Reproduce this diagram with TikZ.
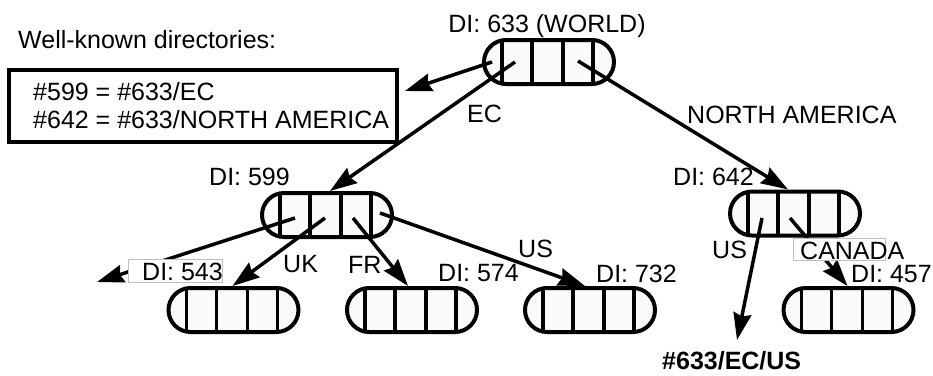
\documentclass[tikz,border=0pt]{standalone}
\usepackage{fontspec}
\setmainfont{Liberation Sans}
\usetikzlibrary{arrows.meta,calc}
\begin{document}
\begin{tikzpicture}[x=1pt,y=-1pt,
  every node/.style={font=\fontsize{25}{28}\selectfont, inner sep=0pt},
  pill/.style={draw, line width=4pt, fill=black!2, rounded corners=22pt,
    minimum width=130pt, minimum height=44pt,
    path picture={\foreach \dx in {-47,-17,14,44}{\draw[line width=3.4pt]
      ([xshift=\dx pt]path picture bounding box.north) -- ([xshift=\dx pt]path picture bounding box.south);}}},
  arr/.style={line width=3.5pt, -{Stealth[length=27pt,width=18pt,inset=3pt]}},
  lbl/.style={anchor=base west},
  gbox/.style={draw=black!25, line width=0.8pt, fill=white, inner sep=0pt}
]
\useasboundingbox (0,0) rectangle (933,375);

% directory nodes
\node[pill] (n633) at (549,62) {};
\node[pill] (n599) at (327,215) {};
\node[pill] (n642) at (795,213.5) {};
\node[pill] (n543) at (233.5,310) {};
\node[pill] (n574) at (412,310) {};
\node[pill] (n732) at (590,310) {};
\node[pill] (n457) at (848.5,310) {};

% well-known box
\node[lbl] (wk) at (18,48) {Well-known directories:};
\node[draw, line width=4pt, minimum width=388pt, minimum height=72pt, anchor=north west] (box) at (7,68) {};
\node[lbl] (w1) at (33,100) {\#599 = \#633/EC};
\node[lbl] (w2) at (33,128) {\#642 = \#633/NORTH AMERICA};

% free ends
\coordinate (tipbox) at (405,91);
\coordinate (tipleft) at (97,282);
\coordinate (tipus) at (737,340);

% arrows
\draw[arr] ($(n633.center)+(-57,0)$) -- (tipbox);
\draw[arr] ($(n633.center)+(-34,0)$) -- ([xshift=3pt]n599.north);
\draw[arr] ($(n633.center)+(29,-1)$) -- ([xshift=-7pt]n642.north);
\draw[arr] ($(n599.center)+(-32,3)$) -- (tipleft);
\draw[arr] ($(n599.center)+(-2,3)$) -- ([xshift=-1pt]n543.north);
\draw[arr] ($(n599.center)+(26,3)$) -- ([xshift=-4pt]n574.north);
\draw[arr] ($(n599.center)+(53,-2)$) -- ([xshift=-5pt]n732.north);
\draw[arr] ($(n642.center)+(-33,4.5)$) -- (tipus);
\draw[arr] ($(n642.center)+(-5,4.5)$) -- ([xshift=-1pt]n457.north);

% boxed labels
\node[gbox, minimum width=94pt, minimum height=23pt, anchor=north west] (b543) at (128,259) {};
\node[lbl] (l543) at (142,280) {DI: 543};
\node[gbox, minimum width=92pt, minimum height=22pt, anchor=north west] (bca) at (793,238) {};
\node[lbl] (lca) at (800,259) {CANADA};

% labels
\node[anchor=base] (l633) at (547,32) {DI: 633 (WORLD)};
\node[lbl] (lec) at (467,122) {EC};
\node[lbl] (lna) at (687,123) {NORTH AMERICA};
\node[lbl] (l599) at (209,185) {DI: 599};
\node[lbl] (l642) at (673,185) {DI: 642};
\node[lbl] (luk) at (283,272) {UK};
\node[lbl] (lfr) at (348,273) {FR};
\node[lbl] (l574) at (438,281) {DI: 574};
\node[lbl] (lus1) at (518,257) {US};
\node[lbl] (l732) at (596,282) {DI: 732};
\node[lbl] (lus2) at (712,258) {US};
\node[lbl] (l457) at (851,282) {DI: 457};
\node[lbl, font=\fontsize{25}{28}\selectfont\bfseries] (lpath) at (662,369) {\#633/EC/US};
\end{tikzpicture}
\end{document}
